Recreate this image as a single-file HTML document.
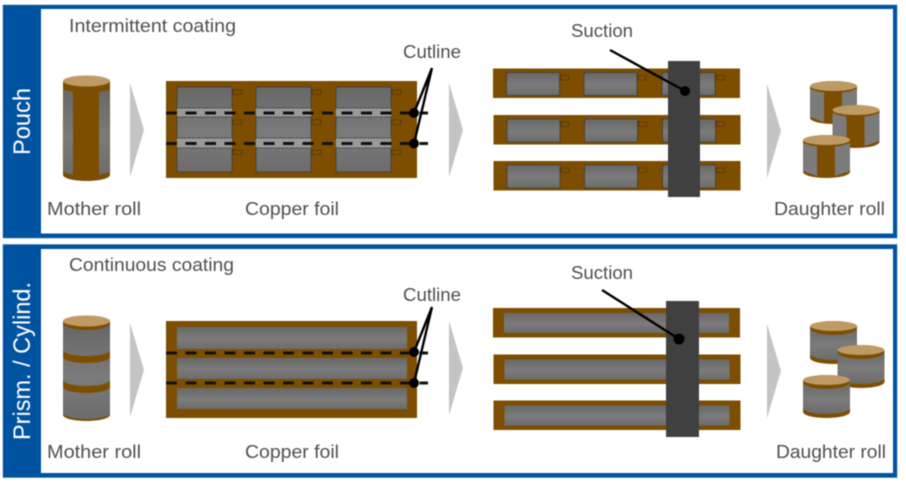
<!DOCTYPE html>
<html><head><meta charset="utf-8"><style>
html,body{margin:0;padding:0;background:#fff;width:906px;height:486px;overflow:hidden}
svg{display:block;filter:blur(.45px)}
text{font-family:"Liberation Sans",sans-serif;font-size:18px;fill:#505050}
.w{fill:#fff;font-size:24px}
.d{stroke:#111;stroke-width:3;stroke-dasharray:11 8.5;fill:none}
.l{stroke:#000;stroke-width:2.4;fill:none}
.o{fill:none;stroke:#333;stroke-width:1.1;stroke-dasharray:1.5 1}
.t{fill:none;stroke:#3a2a10;stroke-width:.8;stroke-dasharray:1.5 .8}
</style></head><body>
<svg width="906" height="486" viewBox="0 0 906 486" xmlns="http://www.w3.org/2000/svg">
<defs>
<linearGradient id="g" x1="0" y1="0" x2="0" y2="1"><stop offset="0" stop-color="#686868"/><stop offset=".55" stop-color="#7b7b7b"/><stop offset="1" stop-color="#6c6c6c"/></linearGradient>
<g id="arrow"><path d="M0 0L14 47L0 94Z" fill="#c4c4c4"/></g>
<g id="foilcell">
<rect width="55" height="85" fill="url(#g)"/>
<rect y="21" width="55" height="9" fill="#999"/><rect y="51" width="55" height="10" fill="#999"/>
<rect class="o" width="55" height="21"/><rect class="o" y="30" width="55" height="21"/><rect class="o" y="61" width="55" height="24"/>
<rect class="t" x="56" y="3" width="9" height="4.5"/><rect class="t" x="56" y="33" width="9" height="4.5"/><rect class="t" x="56" y="63" width="9" height="4.5"/>
</g>
<g id="stripcell">
<rect width="53" height="23" fill="url(#g)"/><rect class="o" width="53" height="23"/>
<rect class="t" x="54" y="3" width="8" height="4.5"/>
</g>
<g id="strip1">
<rect width="247" height="29.5" fill="#7e4e00"/>
<use href="#stripcell" x="13.5" y="4"/><use href="#stripcell" x="91" y="4"/><use href="#stripcell" x="169" y="4"/>
</g>
<g id="strip2">
<rect width="247" height="29.5" fill="#7e4e00"/>
<rect x="11" y="5" width="225" height="20" fill="url(#g)"/>
</g>
<g id="d1">
<path d="M0 5V37A23.5 6 0 0 0 47 37V5Z" fill="#7e4e00"/>
<path d="M0 8L14 11V41L0 36Z" fill="#7b7b7b"/><path d="M32 11L47 8V36L32 41Z" fill="#7b7b7b"/>
<ellipse cx="23.5" cy="6" rx="23.5" ry="6" fill="#7e4e00"/><ellipse cx="23.5" cy="5" rx="23.5" ry="5" fill="#be9a64"/>
</g>
<g id="d2">
<path d="M0 5V37A23.5 6 0 0 0 47 37V5Z" fill="#7e4e00"/>
<path d="M0 5V33A23.5 6 0 0 0 47 33V5Z" fill="url(#g)"/>
<ellipse cx="23.5" cy="7" rx="23.5" ry="7" fill="#7e4e00"/><ellipse cx="23.5" cy="5" rx="23.5" ry="5" fill="#be9a64"/>
</g>
</defs>
<rect width="906" height="486" fill="#fff"/>

<!-- Panel 1 -->
<rect x="2.5" y="4.5" width="895" height="234" fill="#a9c6e2"/>
<rect x="3" y="5" width="894" height="233" fill="#0053a0"/>
<rect x="41" y="9" width="852" height="224.5" fill="#fff"/>
<text class="w" transform="translate(30,155) rotate(-90)" textLength="67" lengthAdjust="spacingAndGlyphs">Pouch</text>
<text x="69" y="32" textLength="167" lengthAdjust="spacingAndGlyphs">Intermittent coating</text>
<text x="47" y="215" textLength="94" lengthAdjust="spacingAndGlyphs">Mother roll</text>
<text x="245" y="215" textLength="94" lengthAdjust="spacingAndGlyphs">Copper foil</text>
<text x="403" y="58" textLength="58" lengthAdjust="spacingAndGlyphs">Cutline</text>
<text x="571" y="37" textLength="62" lengthAdjust="spacingAndGlyphs">Suction</text>
<text x="774" y="215" textLength="111" lengthAdjust="spacingAndGlyphs">Daughter roll</text>

<path d="M63 81V175A23.5 6 0 0 0 110 175V81Z" fill="#7e4e00"/>
<path d="M63.500 90L73 92V175L63.500 172Z" fill="url(#g)"/><path d="M99 92L109.500 90V172L99 175Z" fill="url(#g)"/>
<ellipse cx="86.5" cy="83" rx="23.5" ry="7" fill="#7e4e00"/><ellipse cx="86.5" cy="81" rx="23.5" ry="5.5" fill="#be9a64"/>
<use href="#arrow" x="130" y="83"/>

<rect x="166" y="81" width="251" height="97" fill="#7e4e00"/>
<use href="#foilcell" x="177" y="87"/><use href="#foilcell" x="256" y="87"/><use href="#foilcell" x="336" y="87"/>
<path class="d" d="M166 113H428M166 143.5H428"/>
<path class="l" d="M432 68L414 113M432 68L414 143.5"/>
<circle cx="414" cy="113" r="5" fill="#000"/><circle cx="414" cy="143.5" r="5" fill="#000"/>
<use href="#arrow" x="449" y="83"/>

<use href="#strip1" x="493" y="68.5"/><use href="#strip1" x="493.500" y="115"/><use href="#strip1" x="493.500" y="161"/>
<rect x="668" y="61" width="32" height="136" fill="#404040"/>
<path class="l" d="M610 50L685 91"/><circle cx="685" cy="91" r="5" fill="#000"/>
<use href="#arrow" x="767" y="84"/>
<use href="#d1" x="810" y="81"/><use href="#d1" x="832.500" y="105"/><use href="#d1" x="803" y="135"/>

<!-- Panel 2 -->
<rect x="2.5" y="244" width="895" height="234" fill="#a9c6e2"/>
<rect x="3" y="244.500" width="894" height="233" fill="#0053a0"/>
<rect x="41" y="249" width="852" height="224" fill="#fff"/>
<text class="w" transform="translate(30,440) rotate(-90)" textLength="158" lengthAdjust="spacingAndGlyphs">Prism. / Cylind.</text>
<text x="69" y="271" textLength="165" lengthAdjust="spacingAndGlyphs">Continuous coating</text>
<text x="47" y="458" textLength="94" lengthAdjust="spacingAndGlyphs">Mother roll</text>
<text x="245" y="458" textLength="94" lengthAdjust="spacingAndGlyphs">Copper foil</text>
<text x="403" y="301" textLength="58" lengthAdjust="spacingAndGlyphs">Cutline</text>
<text x="571" y="279" textLength="62" lengthAdjust="spacingAndGlyphs">Suction</text>
<text x="776" y="458" textLength="110" lengthAdjust="spacingAndGlyphs">Daughter roll</text>

<path d="M63 321V415A23.5 6 0 0 0 110 415V321Z" fill="#7e4e00"/>
<path d="M63 326V413A23.5 6 0 0 0 110 413V326Z" fill="url(#g)"/>
<path d="M63 350A23.500 6 0 0 0 110 350V357A23.500 6 0 0 1 63 357Z" fill="#7e4e00"/>
<path d="M63 380A23.500 6 0 0 0 110 380V387A23.500 6 0 0 1 63 387Z" fill="#7e4e00"/>
<ellipse cx="86.5" cy="323" rx="23.5" ry="7" fill="#7e4e00"/><ellipse cx="86.5" cy="321" rx="23.5" ry="5.5" fill="#be9a64"/>
<use href="#arrow" x="130" y="323"/>

<rect x="166" y="321" width="251" height="97" fill="#7e4e00"/>
<rect x="177" y="327" width="230" height="22" fill="url(#g)"/><rect x="177" y="358" width="230" height="21" fill="url(#g)"/><rect x="177" y="388" width="230" height="21" fill="url(#g)"/>
<path class="d" d="M166 353H428M166 383H428"/>
<path class="l" d="M432 307L414 352M432 307L414 383"/>
<circle cx="414" cy="352" r="5" fill="#000"/><circle cx="414" cy="383" r="5" fill="#000"/>
<use href="#arrow" x="449" y="321"/>

<use href="#strip2" x="493" y="308"/><use href="#strip2" x="493.500" y="354.500"/><use href="#strip2" x="493.500" y="400.500"/>
<rect x="666" y="301" width="33" height="136" fill="#404040"/>
<path class="l" d="M602 290L679 339"/><circle cx="679" cy="339" r="5.500" fill="#000"/>
<use href="#arrow" x="767" y="324"/>
<use href="#d2" x="810" y="321"/><use href="#d2" x="837.500" y="345"/><use href="#d2" x="803" y="375"/>
</svg>
</body></html>
